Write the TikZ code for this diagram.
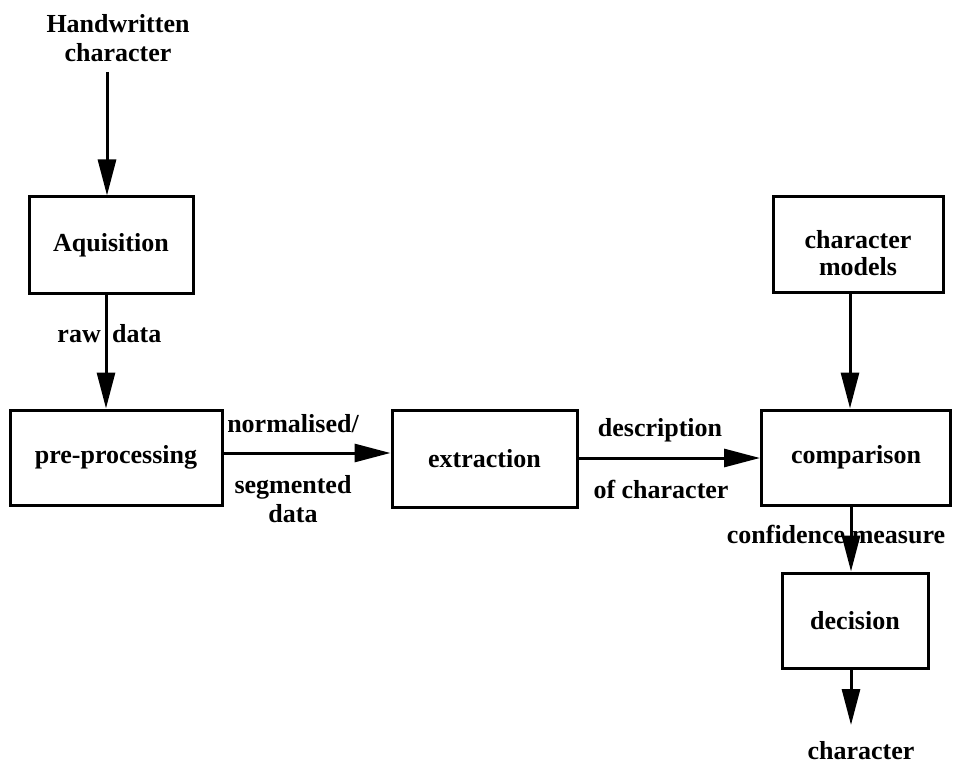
\documentclass[tikz,border=0pt]{standalone}
\usepackage{fontspec}
\setmainfont{Liberation Serif}
\usetikzlibrary{arrows.meta}
\tikzset{
  blk/.style={draw, line width=3pt, inner sep=0pt, font=\fontsize{26}{27}\selectfont\bfseries},
  lbl/.style={inner sep=0pt, align=center, font=\fontsize{26}{29}\selectfont\bfseries},
  arr/.style={line width=3pt, -{Triangle[length=36pt,width=18pt]}},
}
\begin{document}
\begin{tikzpicture}[x=1pt,y=-1pt]
\useasboundingbox (0,0) rectangle (954,765);
% blocks
\node[blk, minimum width=164pt, minimum height=96pt] (acq) at (111,245) {Aquisition};
\node[blk, minimum width=212pt, minimum height=95pt] (pre) at (116,457.5) {pre-processing};
\node[blk, minimum width=185pt, minimum height=97pt] (ext) at (484.5,458.5) {extraction};
\node[blk, minimum width=189pt, minimum height=95pt] (cmp) at (856,457.5) {comparison};
\node[blk, minimum width=170pt, minimum height=95pt] (mod) at (858,244.5) {};
\node[lbl, font=\fontsize{26}{27}\selectfont\bfseries] (modt) at (858,253) {character\\models};
\node[blk, minimum width=146pt, minimum height=95pt] (dec) at (855,620.5) {decision};
% free texts
\node[lbl] (hw) at (118,38) {Handwritten\\character};
\node[lbl] (out) at (861,751) {character};
% x positions of connectors
\coordinate (xa) at (107,0);
\coordinate (xb) at (106,0);
\coordinate (xc) at (850,0);
\coordinate (xd) at (851,0);
\coordinate (ya) at (0,453);
\coordinate (yb) at (0,458);
\coordinate (hwend) at (107,72);
\coordinate (outend) at (851,725);
% connectors
\draw[arr] (hwend) -- (acq.north -| xa);
\draw[arr] (acq.south -| xb) -- (pre.north -| xb);
\draw[arr] (pre.east |- ya) -- (ext.west |- ya);
\draw[arr] (ext.east |- yb) -- (cmp.west |- yb);
\draw[arr] (mod.south -| xc) -- (cmp.north -| xc);
\draw[arr] (cmp.south -| xd) -- (dec.north -| xd);
\draw[arr] (dec.south -| xd) -- (outend);
% connector labels
\node[lbl, anchor=base east] (l1) at (101,342) {raw};
\node[lbl, anchor=base west] (l2) at (112,342) {data};
\node[lbl] (l3) at (293,424) {normalised/};
\node[lbl] (l4) at (293,499) {segmented\\data};
\node[lbl] (l5) at (660,430) {description};
\node[lbl] (l6) at (661,489) {of character};
\node[lbl] (l7) at (836,535) {confidence measure};
\end{tikzpicture}
\end{document}
